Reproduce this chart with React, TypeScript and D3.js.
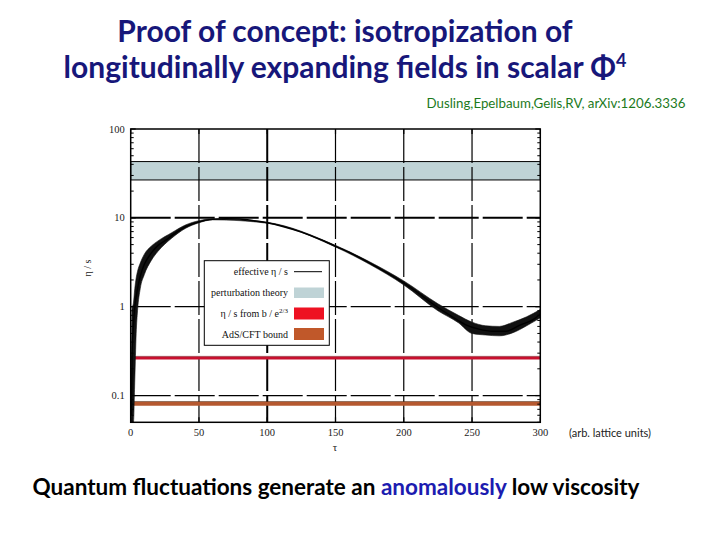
import React from "react";
import * as d3 from "d3";

// ---------- data ----------
const xTicks = [0, 50, 100, 150, 200, 250, 300];
const yTicks = [0.1, 1, 10, 100];
const yTickLabels = ["0.1", "1", "10", "100"];

// effective eta/s (centre of the noisy curve)
const tauCenter = [0.5, 1, 2, 3, 4, 5, 7, 10, 15, 20, 25, 30, 40, 50, 60, 70, 80, 90, 100, 110, 125, 140, 150, 160, 175, 190, 200, 210, 225, 235, 245, 255, 265, 275, 285, 295, 300];
const etaCenter = [0.06, 0.3, 0.6, 1.0, 1.3, 1.6, 2.2, 3.0, 4.0, 4.9, 5.5, 6.3, 7.9, 9.0, 9.6, 9.8, 9.7, 9.3, 8.8, 8.1, 6.9, 5.6, 4.8, 4.1, 3.1, 2.3, 1.85, 1.45, 0.98, 0.78, 0.63, 0.56, 0.53, 0.53, 0.62, 0.72, 0.83];

// fluctuation envelope
const tauBand = [0.3, 1, 2, 3, 4, 5, 7, 10, 15, 20, 30, 40, 50, 60, 100, 150, 175, 200, 225, 240, 250, 260, 270, 280, 290, 300];
const etaLow = [0.05, 0.05, 0.05, 0.15, 0.5, 0.9, 1.6, 2.3, 3.3, 4.2, 5.9, 7.6, 8.8, 9.5, 8.7, 4.7, 3.0, 1.76, 0.9, 0.66, 0.5, 0.48, 0.47, 0.51, 0.61, 0.75];
const etaHigh = [0.05, 0.95, 1.1, 1.6, 2.1, 2.5, 3.1, 3.9, 4.8, 5.5, 6.8, 8.3, 9.3, 9.8, 8.9, 4.9, 3.2, 1.95, 1.08, 0.8, 0.67, 0.61, 0.6, 0.67, 0.77, 0.93];

const perturbationBand = [26.7, 43];
const bFromE = 0.265;
const adsCftBound = 0.081;

const legendLabels = ["effective  η / s", "perturbation theory", "η / s from b / e", "AdS/CFT bound"];

// ---------- layout ----------
const W = 720, H = 540;
const L = 130.7, R = 540.3, T = 129, B = 422.3;

export default function App() {
  const x = d3.scaleLinear().domain([0, 300]).range([L, R]);
  const y = d3.scaleLog().domain([0.05, 100]).range([B, T]);

  const line = d3.line<number>().x((_, i) => x(tauCenter[i])).y((d) => y(d)).curve(d3.curveMonotoneX);
  const area = d3.area<number>()
    .x((_, i) => x(tauBand[i]))
    .y0((_, i) => y(etaLow[i]))
    .y1((d) => y(d))
    .curve(d3.curveMonotoneX);

  const minor: number[] = [];
  [0.01, 0.1, 1, 10].forEach((dec) => {
    for (let k = 2; k <= 9; k++) {
      const v = dec * k;
      if (v >= 0.05 && v < 100) minor.push(v);
    }
  });

  const serif = "'Liberation Serif', 'DejaVu Serif', serif";
  const sans = "Lato, 'Open Sans', sans-serif";

  const legX0 = 204.3, legX1 = 329.3, legY0 = 260.7, legY1 = 345.3;
  const legRows = [271.7, 292.5, 313.5, 334];
  const swX0 = 294, swX1 = 324;

  return (
    <svg width={W} height={H} style={{ position: "absolute", left: 0, top: 0, background: "#fff" }}>
      <rect x={0} y={0} width={W} height={H} fill="#fff" />
      {/* title */}
      <text x={345} y={42} textAnchor="middle" fontFamily={sans} fontWeight="bold" fontSize={30} fill="#17177a">
        Proof of concept: isotropization of
      </text>
      <text x={345} y={78} textAnchor="middle" fontFamily={sans} fontWeight="bold" fontSize={30} fill="#17177a">
        longitudinally expanding fields in scalar Φ<tspan dy={-11} fontSize={18}>4</tspan>
      </text>
      <text x={556} y={108} textAnchor="middle" fontFamily={sans} fontSize={13.3} fill="#1c7a1c">
        Dusling,Epelbaum,Gelis,RV, arXiv:1206.3336
      </text>

      {/* perturbation band */}
      <rect x={L} y={y(perturbationBand[1])} width={R - L} height={y(perturbationBand[0]) - y(perturbationBand[1])} fill="#bfd3d6" stroke="#000" strokeWidth={1} />

      {/* grid */}
      {xTicks.slice(1, -1).map((t) => (
        <line key={"gx" + t} x1={x(t)} x2={x(t)} y1={T} y2={B} stroke="#000" strokeWidth={t === 100 ? 2 : 1.2} strokeDasharray="34,4" />
      ))}
      {yTicks.slice(0, -1).map((t) => (
        <line key={"gy" + t} x1={L} x2={R} y1={y(t)} y2={y(t)} stroke="#000" strokeWidth={t === 10 ? 2 : 1.2} strokeDasharray="40,4" />
      ))}

      {/* horizontal bounds */}
      <line x1={L} x2={R} y1={y(bFromE)} y2={y(bFromE)} stroke="#c8102e" strokeWidth={3} />
      <line x1={L} x2={R} y1={y(bFromE) - 1.6} y2={y(bFromE) - 1.6} stroke="#6a0a10" strokeWidth={0.5} />
      <line x1={L} x2={R} y1={y(adsCftBound)} y2={y(adsCftBound)} stroke="#b5582f" strokeWidth={4} />
      <line x1={L} x2={R} y1={y(adsCftBound) - 2.2} y2={y(adsCftBound) - 2.2} stroke="#5a2a10" strokeWidth={0.6} />

      {/* curve */}
      <path d={area(etaHigh) || ""} fill="#111" stroke="#111" strokeWidth={0.6} />
      <path d={line(etaCenter) || ""} fill="none" stroke="#000" strokeWidth={1.4} />

      {/* frame */}
      <rect x={L} y={T} width={R - L} height={B - T} fill="none" stroke="#000" strokeWidth={1.5} />

      {/* y ticks */}
      {yTicks.map((t, i) => (
        <g key={"yt" + t}>
          <line x1={L} x2={L + 5} y1={y(t)} y2={y(t)} stroke="#000" strokeWidth={1.2} />
          <line x1={R} x2={R - 5} y1={y(t)} y2={y(t)} stroke="#000" strokeWidth={1.2} />
          <text x={L - 6} y={y(t) + 3.5} textAnchor="end" fontFamily={serif} fontSize={10.5} fill="#222">
            {yTickLabels[i]}
          </text>
        </g>
      ))}
      {minor.map((m) => (
        <g key={"mn" + m}>
          <line x1={L} x2={L + 3} y1={y(m)} y2={y(m)} stroke="#000" strokeWidth={1} />
          <line x1={R} x2={R - 3} y1={y(m)} y2={y(m)} stroke="#000" strokeWidth={1} />
        </g>
      ))}
      {/* x ticks */}
      {xTicks.map((t) => (
        <g key={"xt" + t}>
          <line x1={x(t)} x2={x(t)} y1={B} y2={B - 5} stroke="#000" strokeWidth={1.2} />
          <line x1={x(t)} x2={x(t)} y1={T} y2={T + 5} stroke="#000" strokeWidth={1.2} />
          <text x={x(t)} y={436} textAnchor="middle" fontFamily={serif} fontSize={10.5} fill="#222">
            {t}
          </text>
        </g>
      ))}
      <text x={335} y={451} textAnchor="middle" fontFamily={serif} fontSize={11} fill="#222">τ</text>
      <text transform="translate(91,268) rotate(-90)" textAnchor="middle" fontFamily={serif} fontSize={10} fill="#222">η / s</text>

      {/* legend */}
      <rect x={legX0} y={legY0} width={legX1 - legX0} height={legY1 - legY0} fill="#fff" stroke="#000" strokeWidth={1} />
      {legendLabels.map((lab, i) => (
        <text key={lab} x={288} y={legRows[i] + 3.5} textAnchor="end" fontFamily={serif} fontSize={10} fill="#111">
          {lab}
          {i === 2 ? <tspan dy={-4} fontSize={7}>2/3</tspan> : null}
        </text>
      ))}
      <line x1={swX0} x2={swX1 - 2} y1={legRows[0]} y2={legRows[0]} stroke="#000" strokeWidth={1} />
      <rect x={swX0} y={legRows[1] - 5} width={swX1 - swX0} height={10.5} fill="#bfd3d6" />
      <rect x={swX0} y={legRows[2] - 6} width={swX1 - swX0} height={12} fill="#ee1122" />
      <rect x={swX0} y={legRows[3] - 6} width={swX1 - swX0} height={12} fill="#c0582a" />

      <text x={610} y={437} textAnchor="middle" fontFamily={sans} fontSize={11} fill="#222">(arb. lattice units)</text>

      {/* bottom caption */}
      <text x={336} y={495} textAnchor="middle" fontFamily={sans} fontWeight="bold" fontSize={22.5} fill="#000">
        Quantum fluctuations generate an <tspan fill="#1c1cb0">anomalously</tspan> low viscosity
      </text>
    </svg>
  );
}
